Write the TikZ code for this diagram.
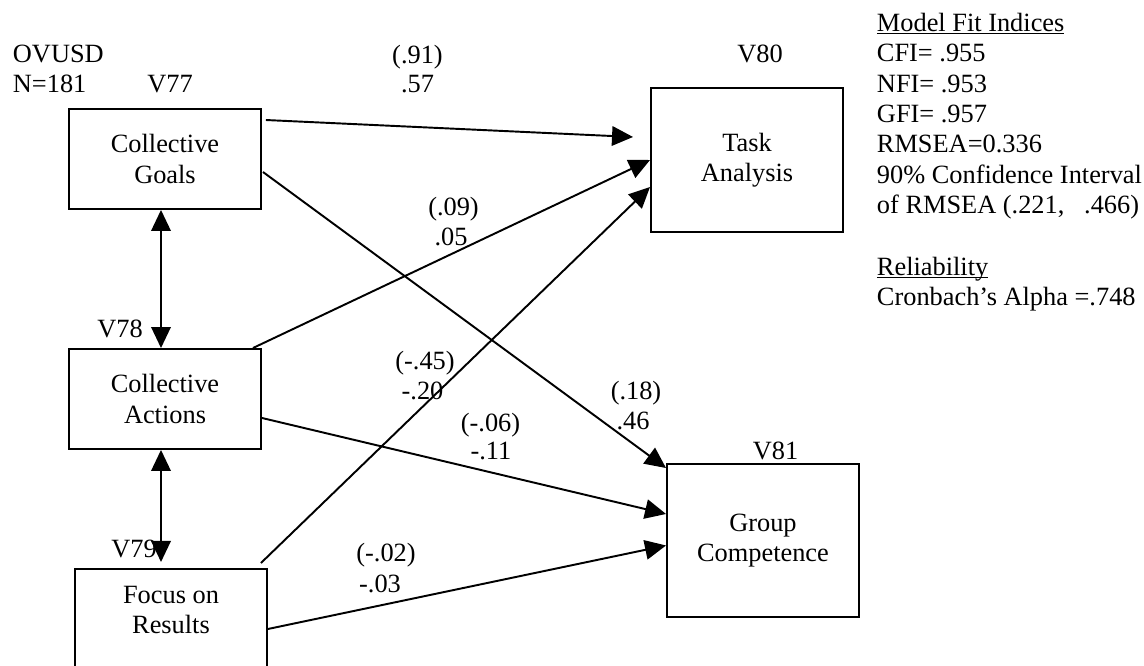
\documentclass[tikz,border=0pt]{standalone}
\usepackage{fontspec}
\setmainfont{Liberation Serif}
\usetikzlibrary{arrows.meta}

\newcommand\ulined[1]{\setbox0\hbox{#1}\rlap{\rule[-1.8pt]{\wd0}{0.8pt}}#1}

\begin{document}
\begin{tikzpicture}[>={Triangle[length=0.42cm,width=0.39cm]}, line width=1.1pt,
    font=\fontsize{15}{17.3}\selectfont,
    box/.style={draw, minimum width=3.84cm, align=center, inner sep=0pt},
    txt/.style={inner sep=0pt, anchor=base}]
\useasboundingbox (0,0) rectangle (22.88,13.32);

% variables
\node[box, minimum height=2cm] (goals) at (3.30,10.14) {Collective\\Goals};
\node[box, minimum height=2cm] (actions) at (3.30,5.34) {Collective\\Actions};
\node[box, minimum height=2.8cm, anchor=north] (focus) at (3.42,1.96) {};
\node[inner sep=0pt, align=center] (focustxt) at (3.42,1.12) {Focus on\\Results};
\node[box, minimum height=2.88cm] (task) at (14.94,10.12) {Task\\Analysis};
\node[box, minimum height=3.06cm] (comp) at (15.26,2.51) {Group\\Competence};

\node[txt] (v77) at (3.40,11.46) {V77};
\node[txt] (v78) at (2.40,6.56) {V78};
\node[txt] (v79) at (2.68,2.16) {V79};
\node[txt] (v80) at (15.20,12.06) {V80};
\node[txt] (v81) at (15.51,4.12) {V81};
\node[txt, anchor=base west] (ovusd) at (0.24,12.06) {OVUSD};
\node[txt, anchor=base west] (size) at (0.24,11.46) {N=181};

% paths
\draw[->] ([xshift=0.08cm,yshift=-0.24cm]goals.north east) -- ([xshift=-0.34cm,yshift=0.46cm]task.west);
\draw[->] ([xshift=-0.18cm]actions.north east) -- (task.west);
\draw[->] ([xshift=-0.14cm,yshift=0.1cm]focus.north east) -- ([yshift=-0.54cm]task.west);
\draw[->] ([xshift=0.02cm,yshift=-0.26cm]goals.east) -- ([yshift=-0.1cm]comp.north west);
\draw[->] ([yshift=-0.38cm]actions.east) -- ([yshift=0.53cm]comp.west);
\draw[->] ([yshift=-1.22cm]focus.north east) -- ([yshift=-0.1cm]comp.west);
\draw[<->] ([xshift=-0.08cm]goals.south) -- ([xshift=-0.08cm]actions.north);
\draw[<->] ([xshift=-0.08cm]actions.south) -- ([xshift=-0.2cm,yshift=0.12cm]focus.north);

% coefficients
\node[txt] (c91) at (8.35,12.04) {(.91)};
\node[txt] (c57) at (8.35,11.46) {.57};
\node[txt] (c09) at (9.07,9.00) {(.09)};
\node[txt] (c05) at (9.02,8.40) {.05};
\node[txt] (c45) at (8.50,5.92) {(-.45)};
\node[txt] (c20) at (8.45,5.32) {-.20};
\node[txt] (c06) at (9.81,4.68) {(-.06)};
\node[txt] (c11) at (9.82,4.12) {-.11};
\node[txt] (c18) at (12.72,5.32) {(.18)};
\node[txt] (c46) at (12.66,4.72) {.46};
\node[txt] (c02) at (7.72,2.08) {(-.02)};
\node[txt] (c03) at (7.60,1.46) {-.03};

% fit indices
\node[inner sep=0pt, anchor=north west, align=left] (fit) at (17.52,13.08)
  {\ulined{Model Fit Indices}\\CFI= .955\\NFI= .953\\GFI= .957\\RMSEA=0.336\\90\% Confidence Interval\\of RMSEA (.221,\ \ \ .466)};
\node[inner sep=0pt, anchor=north west, align=left] (rel) at (17.52,8.20)
  {\ulined{Reliability}\\Cronbach’s Alpha =.748};
\end{tikzpicture}
\end{document}
